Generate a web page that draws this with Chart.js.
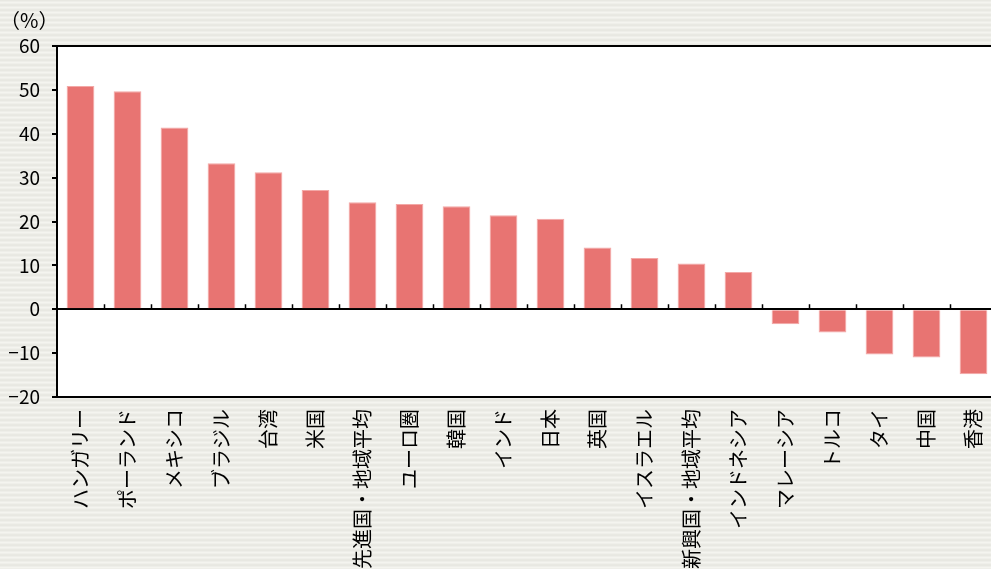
<!doctype html>
<meta charset="utf-8">
<style>
  html, body { margin: 0; padding: 0; overflow: hidden; background: #ecece7; }
</style>
<script src="https://cdn.jsdelivr.net/npm/chart.js@4.4.8/dist/chart.umd.min.js"></script>

<canvas id="chart" width="997" height="569"></canvas>

<script>
    const categories = ["ハンガリー", "ポーランド", "メキシコ", "ブラジル", "台湾", "米国",
        "先進国・地域平均", "ユーロ圏", "韓国", "インド", "日本", "英国", "イスラエル",
        "新興国・地域平均", "インドネシア", "マレーシア", "トルコ", "タイ", "中国", "香港"];
    const values = [50.9, 49.7, 41.4, 33.3, 31.2, 27.2, 24.4, 24.0, 23.5, 21.4, 20.6,
        14.1, 11.7, 10.4, 8.5, -3.4, -5.3, -10.3, -11.0, -14.8];
    const yTicks = [-20, -10, 0, 10, 20, 30, 40, 50, 60];

    const font = "'Noto Sans CJK JP', 'Noto Sans', sans-serif";

    // striped paper background
    function stripes(ctx) {
        const c = document.createElement("canvas");
        c.width = 8; c.height = 5;
        const g = c.getContext("2d");
        ["#e8e8e2", "#eeeee9", "#f4f4ef", "#efefea", "#e9e9e3"].forEach((col, i) => {
            g.fillStyle = col;
            g.fillRect(0, i, 8, 1);
        });
        return ctx.createPattern(c, "repeat");
    }

    const frame = {
        id: "frame",
        beforeDraw(chart) {
            const {ctx, chartArea: a, width, height} = chart;
            ctx.save();
            ctx.fillStyle = stripes(ctx);
            ctx.fillRect(0, 0, width, height);
            ctx.fillStyle = "#fff";
            ctx.fillRect(a.left, a.top, a.right - a.left, a.bottom - a.top);
            ctx.restore();
        },
        afterDraw(chart) {
            const {ctx, chartArea: a, scales: {x, y}} = chart;
            ctx.save();
            ctx.strokeStyle = "#000";
            ctx.lineWidth = 2;
            ctx.beginPath();
            ctx.moveTo(a.left, a.top);
            ctx.lineTo(a.right, a.top);
            ctx.stroke();
            // small category ticks on the zero line
            const y0 = y.getPixelForValue(0);
            ctx.lineWidth = 1.5;
            ctx.beginPath();
            for (let i = 1; i < categories.length; i++) {
                const px = Math.round((x.getPixelForValue(i - 1) + x.getPixelForValue(i)) / 2) + 0.5;
                ctx.moveTo(px, y0);
                ctx.lineTo(px, y0 - 5);
            }
            ctx.stroke();
            ctx.fillStyle = "#000";
            ctx.font = "20px " + font;
            ctx.textBaseline = "middle";
            ctx.fillText("（%）", 0, 20);
            ctx.restore();
        }
    };

    new Chart(document.getElementById("chart"), {
        type: "bar",
        plugins: [frame],
        data: {
            labels: categories,
            datasets: [{
                data: values,
                backgroundColor: "#e87472",
                borderColor: "#f3a8a6",
                borderWidth: 1,
                categoryPercentage: 1,
                barPercentage: 0.59
            }]
        },
        options: {
            responsive: false,
            animation: false,
            layout: {padding: {top: 46, right: 0, left: 0, bottom: 0}},
            plugins: {legend: {display: false}, tooltip: {enabled: false}},
            scales: {
                x: {
                    grid: {display: false},
                    border: {display: true, color: "#000", width: 2},
                    ticks: {
                        minRotation: 90, maxRotation: 90, autoSkip: false, padding: 4,
                        color: "#000", font: {family: font, size: 20}
                    },
                    afterFit(s) {
                        s.height = 172;
                        s.paddingLeft = 0;
                        s.paddingRight = 0;
                    }
                },
                y: {
                    min: -20, max: 60,
                    afterBuildTicks(s) { s.ticks = yTicks.map(v => ({value: v})); },
                    grid: {
                        drawOnChartArea: true,
                        color: c => c.tick && c.tick.value === 0 ? "#000" : "rgba(0,0,0,0)",
                        lineWidth: 2,
                        tickColor: "#000",
                        tickLength: 5
                    },
                    border: {display: true, color: "#000", width: 2},
                    ticks: {
                        padding: 12,
                        color: "#000",
                        font: {family: font, size: 19},
                        callback: v => v < 0 ? "−" + Math.abs(v) : String(v)
                    },
                    afterFit(s) { s.width = 57; }
                }
            }
        }
    });
</script>
